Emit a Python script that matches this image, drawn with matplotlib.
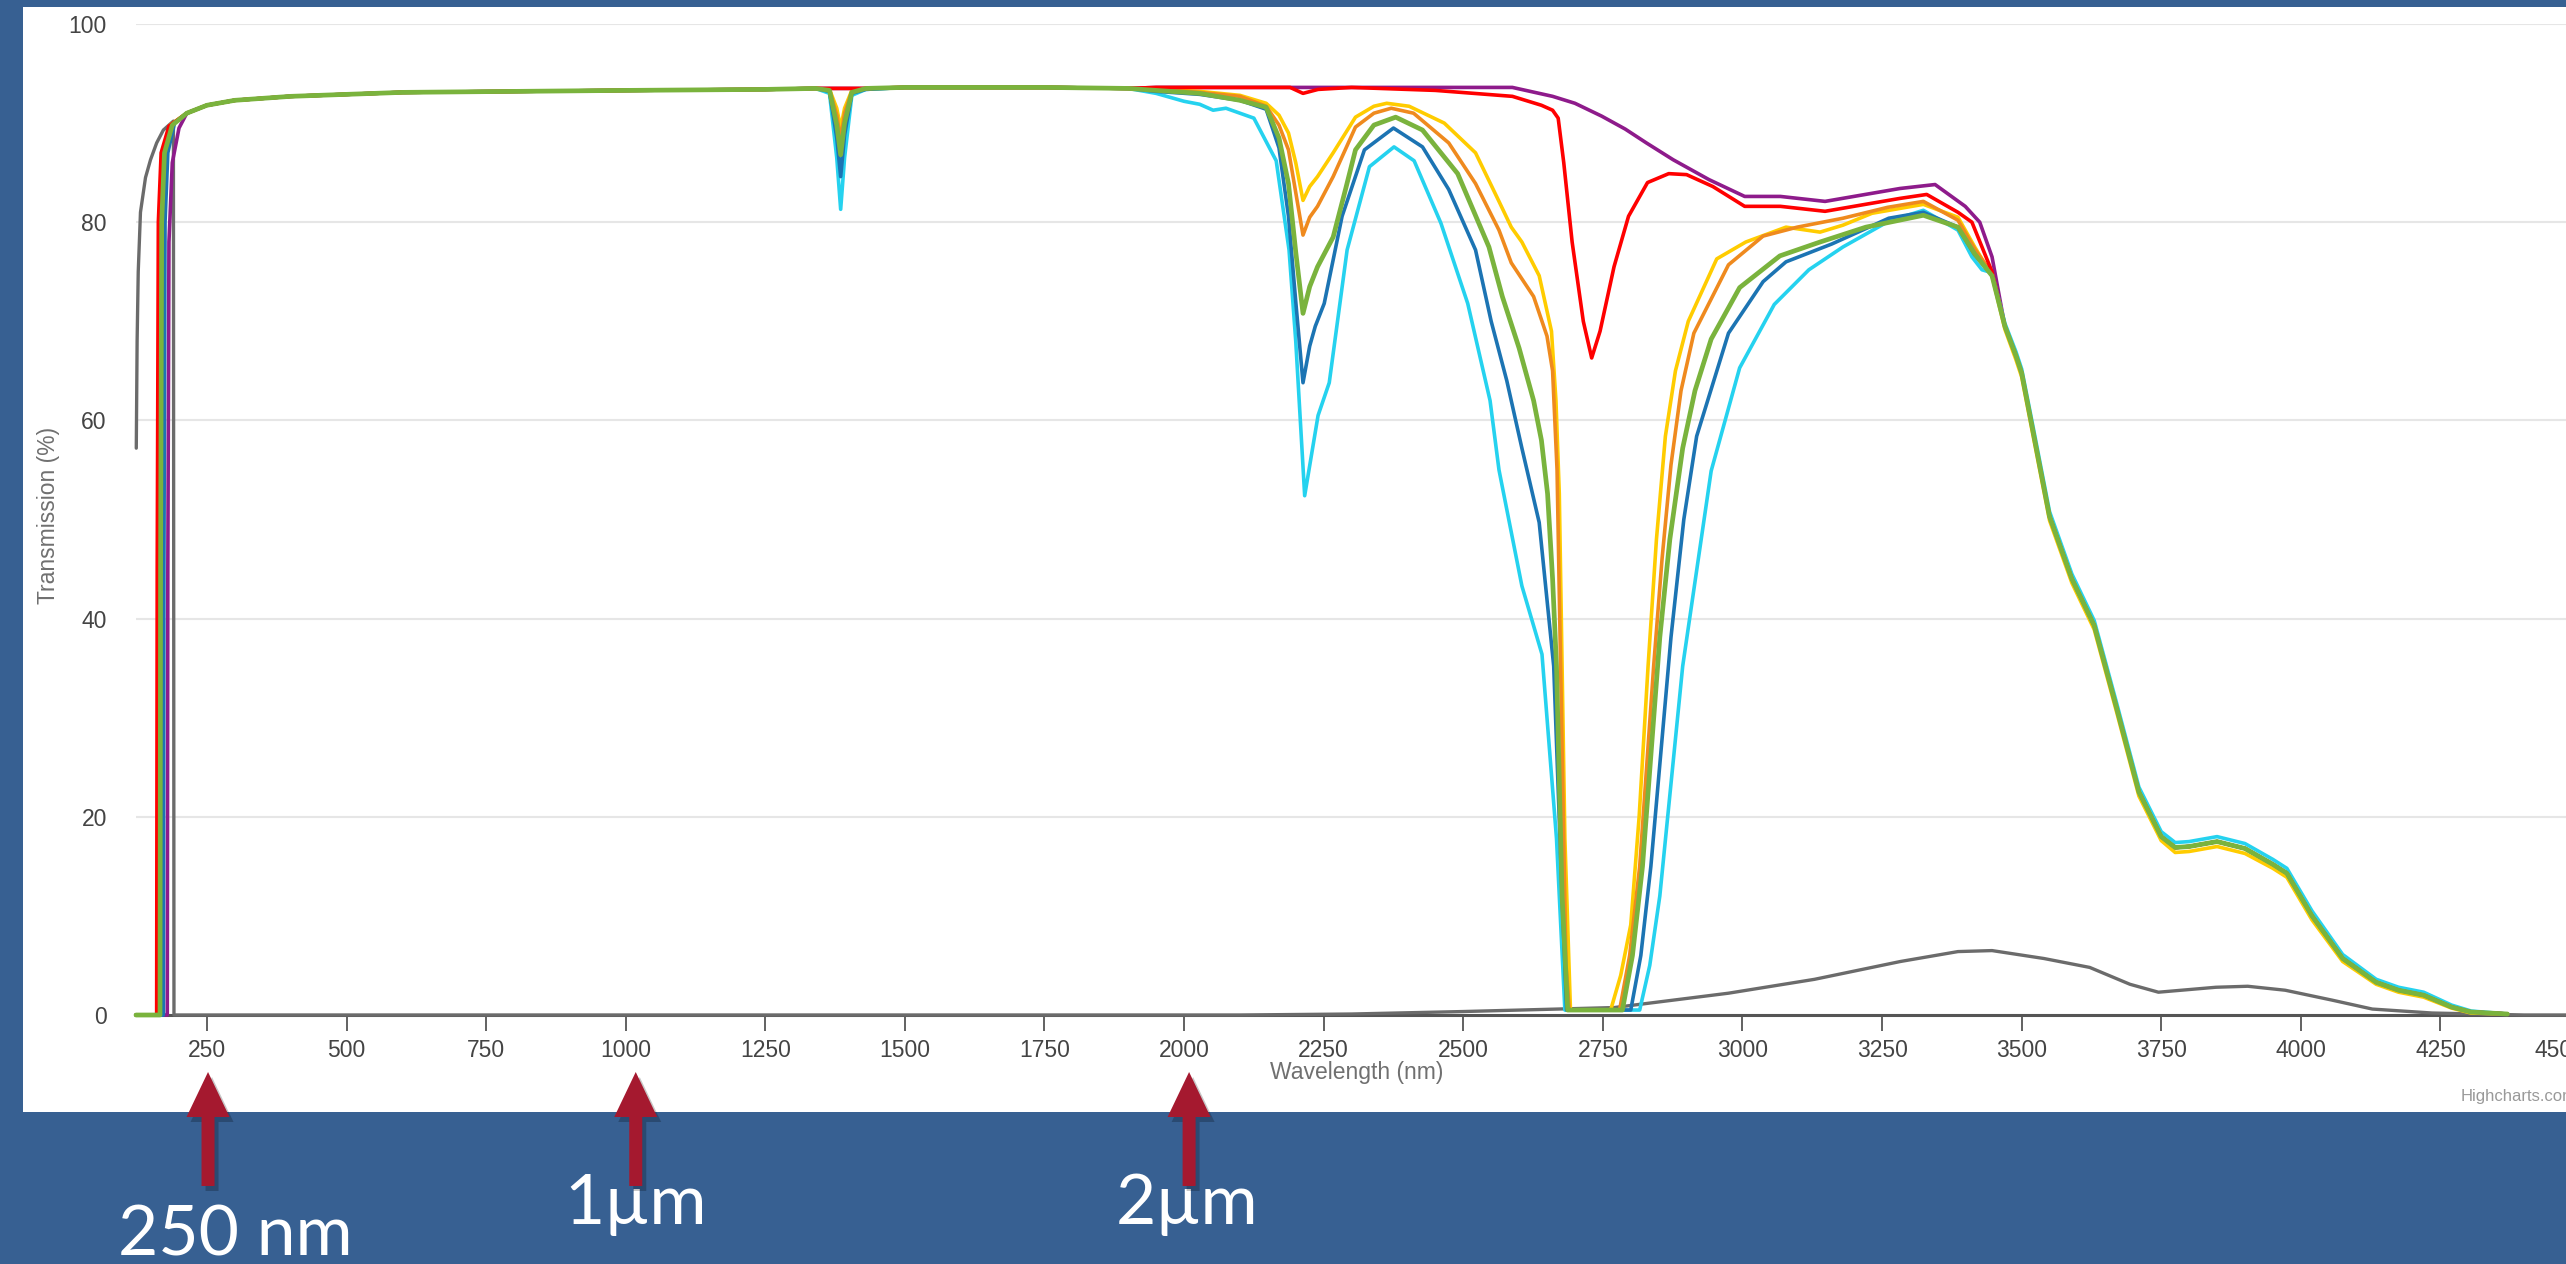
#%%
# Transmission curves of several glass grades, redrawn from a Highcharts screenshot
import numpy as np
import matplotlib.pyplot as plt
from matplotlib.patches import Polygon, Rectangle
from matplotlib.transforms import ScaledTranslation

plt.rcParams['font.family'] = ['Liberation Sans', 'DejaVu Sans']

# %%
# values (wavelength in nm, transmission in %)

# shared pieces: UV/visible plateau, the mid plateau and the IR tail
plateau_x = [214, 250, 300, 400, 600, 800, 1000, 1250, 1340]
plateau_y = [91.0, 91.8, 92.3, 92.7, 93.1, 93.2, 93.3, 93.4, 93.5]
dip_x = [1365, 1378, 1385, 1392, 1405, 1430]
mid_x = [1500, 1750, 1900]
mid_y = [93.6, 93.6, 93.5]
tail_x = [3470, 3490, 3500, 3520, 3550, 3590, 3630, 3670, 3710, 3750, 3775,
          3800, 3850, 3900, 3950, 3975, 4020, 4075, 4135, 4175, 4220, 4270,
          4305, 4370]
tail_y = [69.5, 66.5, 64.8, 59.0, 50.3, 44.0, 39.3, 31.0, 22.5, 18.0, 16.9,
          17.0, 17.5, 16.8, 15.2, 14.3, 10.0, 5.7, 3.3, 2.5, 2.0, 0.8,
          0.3, 0.1]
# cyan runs a touch above the bundle in the tail, yellow a touch below
cyan_tail_y = [69.8, 66.9, 65.2, 59.5, 50.8, 44.5, 39.8, 31.5, 23.0, 18.5, 17.4,
               17.5, 18.0, 17.3, 15.7, 14.8, 10.5, 6.1, 3.6, 2.8, 2.3, 1.0,
               0.4, 0.1]
yellow_tail_y = [69.2, 66.1, 64.4, 58.6, 49.9, 43.6, 38.9, 30.6, 22.1, 17.6, 16.4,
                 16.5, 17.0, 16.3, 14.8, 13.9, 9.6, 5.4, 3.1, 2.3, 1.8, 0.7,
                 0.2, 0.1]

# yellow
yellow_edge_x = [123, 162, 163, 165, 170, 184]
yellow_edge_y = [0, 0, 45, 80, 87, 89.8]
yellow_dip_y = [93.4, 91.5, 89.5, 91.5, 93.3, 93.5]
yellow_ir_x = [1950, 2028, 2100, 2147, 2170, 2187, 2200, 2213, 2225, 2239,
               2267, 2307, 2340, 2363, 2403, 2466, 2522, 2564, 2586, 2605,
               2636, 2658, 2666, 2672, 2682, 2692, 2764, 2782, 2800, 2815,
               2831, 2846, 2862, 2880, 2903, 2954, 3006, 3078, 3139, 3180,
               3232, 3324, 3386, 3416, 3447]
yellow_ir_y = [93.4, 93.2, 92.8, 92.0, 90.8, 89.0, 86.0, 82.2, 83.6, 84.6,
               87.0, 90.6, 91.7, 92.0, 91.7, 90.0, 87.0, 82.1, 79.5, 78.0,
               74.6, 69.0, 62.0, 52.6, 17.8, 0.5, 0.5, 4.0, 9.1, 20.0,
               35.2, 48.0, 58.4, 65.0, 70.0, 76.3, 78.0, 79.5, 79.0, 79.7,
               80.9, 81.8, 80.5, 77.5, 74.6]

# orange
orange_edge_x = [123, 164, 165, 167, 172, 186]
orange_edge_y = [0, 0, 45, 80, 87, 89.8]
orange_dip_y = [93.4, 90.8, 88.3, 91.0, 93.2, 93.5]
orange_ir_x = [1950, 2028, 2100, 2147, 2170, 2187, 2200, 2213, 2225, 2239,
               2267, 2307, 2340, 2371, 2411, 2474, 2522, 2564, 2586, 2626,
               2650, 2660, 2668, 2676, 2684, 2690, 2780, 2798, 2816, 2841,
               2856, 2872, 2890, 2913, 2975, 3037, 3098, 3180, 3260, 3324,
               3386, 3416, 3447]
orange_ir_y = [93.4, 93.1, 92.7, 91.7, 89.8, 87.3, 83.0, 78.7, 80.5, 81.6,
               84.6, 89.6, 91.0, 91.5, 91.0, 88.0, 83.9, 79.2, 75.9, 72.5,
               68.5, 65.0, 55.0, 30.0, 5.0, 0.5, 0.5, 6.0, 15.0, 35.2,
               46.0, 55.5, 63.0, 68.8, 75.7, 78.6, 79.5, 80.4, 81.5, 82.1,
               80.2, 77.3, 74.8]

# green
green_edge_x = [123, 166, 167, 169, 174, 188]
green_edge_y = [0, 0, 45, 80, 87, 89.8]
green_dip_y = [93.3, 89.8, 86.8, 90.0, 93.1, 93.5]
green_ir_x = [1950, 2028, 2100, 2147, 2170, 2187, 2200, 2213, 2225, 2239,
              2267, 2290, 2307, 2340, 2379, 2427, 2490, 2546, 2570, 2600,
              2626, 2640, 2651, 2660, 2667, 2677, 2687, 2785, 2803, 2821,
              2852, 2870, 2893, 2915, 2944, 2995, 3067, 3139, 3221, 3324,
              3386, 3416, 3447]
green_ir_y = [93.3, 93.0, 92.3, 91.6, 88.5, 83.9, 77.0, 70.8, 73.5, 75.5,
              78.5, 83.5, 87.3, 89.8, 90.6, 89.3, 84.9, 77.5, 72.5, 67.3,
              62.0, 58.0, 52.6, 44.0, 35.2, 12.0, 0.5, 0.5, 6.0, 15.0,
              38.1, 48.0, 57.2, 63.0, 68.2, 73.4, 76.6, 78.0, 79.5, 80.7,
              79.5, 76.8, 74.6]

# dark blue
blue_edge_x = [123, 172, 173, 175, 180, 192]
blue_edge_y = [0, 0, 45, 80, 87, 90.0]
blue_dip_y = [93.2, 88.5, 84.6, 88.8, 93.0, 93.4]
blue_ir_x = [1950, 2028, 2100, 2147, 2170, 2187, 2200, 2213, 2225, 2235,
             2251, 2283, 2323, 2375, 2427, 2474, 2522, 2550, 2578, 2605,
             2636, 2662, 2677, 2685, 2800, 2818, 2836, 2872, 2895, 2918,
             2975, 3037, 3078, 3160, 3262, 3324, 3386, 3416, 3447]
blue_ir_y = [93.2, 92.9, 92.3, 91.4, 87.5, 80.6, 72.0, 63.8, 67.5, 69.5,
             71.8, 80.6, 87.3, 89.5, 87.6, 83.3, 77.2, 70.0, 64.0, 57.2,
             49.7, 35.2, 12.0, 0.5, 0.5, 6.0, 15.0, 38.1, 50.0, 58.4,
             68.8, 74.0, 76.0, 77.8, 80.4, 81.0, 79.5, 76.7, 74.7]

# cyan
cyan_edge_x = [123, 169, 170, 172, 177, 190]
cyan_edge_y = [0, 0, 45, 80, 87, 89.9]
cyan_dip_y = [93.0, 86.5, 81.3, 86.5, 92.8, 93.4]
cyan_ir_x = [1950, 2000, 2028, 2052, 2075, 2100, 2125, 2165, 2188, 2200,
             2216, 2240, 2260, 2292, 2332, 2376, 2412, 2460, 2508, 2548,
             2564, 2605, 2641, 2667, 2682, 2816, 2834, 2852, 2893, 2944,
             2995, 3057, 3119, 3180, 3262, 3324, 3386, 3411, 3429, 3447]
cyan_ir_y = [93.0, 92.2, 91.9, 91.3, 91.5, 91.0, 90.5, 86.2, 77.2, 68.0,
             52.4, 60.5, 63.8, 77.2, 85.6, 87.6, 86.2, 79.9, 71.8, 62.0,
             55.0, 43.3, 36.4, 17.8, 0.5, 0.5, 5.0, 12.0, 35.2, 54.9,
             65.3, 71.7, 75.2, 77.5, 80.1, 81.2, 79.2, 76.5, 75.2, 74.9]

# red (low OH, only the 2730 band)
red_edge_x = [123, 160, 161, 163, 168, 182]
red_edge_y = [0, 0, 45, 80, 87, 89.7]
flat_dip_y = [93.5, 93.5, 93.5, 93.5, 93.5, 93.5]
red_ir_x = [1950, 2190, 2213, 2240, 2300, 2450, 2588, 2640, 2660, 2670,
            2680, 2695, 2715, 2730, 2745, 2770, 2796, 2830, 2868, 2900,
            2947, 3004, 3068, 3148, 3220, 3282, 3330, 3386, 3411, 3447]
red_ir_y = [93.6, 93.6, 93.0, 93.4, 93.6, 93.3, 92.7, 91.8, 91.3, 90.5,
            86.0, 78.0, 70.0, 66.3, 69.0, 75.5, 80.6, 84.0, 84.9, 84.8,
            83.6, 81.6, 81.6, 81.1, 81.8, 82.4, 82.8, 81.0, 80.0, 75.0]

# purple (no OH bands)
purple_edge_x = [123, 179, 180, 182, 188, 200]
purple_edge_y = [0, 0, 45, 78, 86, 89.5]
purple_ir_x = [1950, 2300, 2500, 2588, 2660, 2700, 2748, 2790, 2828, 2876,
               2940, 3004, 3068, 3148, 3220, 3282, 3345, 3399, 3425, 3447]
purple_ir_y = [93.6, 93.6, 93.6, 93.6, 92.7, 92.0, 90.7, 89.4, 88.0, 86.3,
               84.3, 82.6, 82.6, 82.1, 82.8, 83.4, 83.8, 81.6, 80.0, 76.5]

# gray
gray_x = [123.5, 125, 127, 131, 140, 149, 160, 172, 190, 191, 2100, 2300,
          2500, 2770, 2975, 3129, 3283, 3386, 3447, 3540, 3622, 3694, 3745,
          3848, 3905, 3972, 4056, 4128, 4235, 4400, 4500]
gray_y = [57.2, 68.0, 75.0, 81.0, 84.5, 86.3, 88.0, 89.3, 90.2, 0, 0, 0.1,
          0.35, 0.75, 2.2, 3.6, 5.4, 6.4, 6.5, 5.7, 4.8, 3.1, 2.3,
          2.8, 2.9, 2.5, 1.5, 0.6, 0.2, 0, 0]

xticks = list(range(250, 4501, 250))
yticks = [0, 20, 40, 60, 80, 100]

arrow_x = [252, 1018, 2009]
arrow_labels = ['250 nm', '1µm', '2µm']

# %%
# page layout in pixels of the 2566 x 1264 picture
W, H = 2566, 1264
fig = plt.figure(figsize=(W / 100, H / 100), dpi=100, facecolor='#376092')

def fx(px):
    return px / W

def fy(py):
    return 1 - py / H

# white chart panel
fig.patches.append(Rectangle((fx(23), fy(1112)), 1, (1112 - 7) / H,
                             transform=fig.transFigure, facecolor='white',
                             edgecolor='none', zorder=-10))

ax = fig.add_axes([fx(136), fy(1015), (2580 - 136) / W, (1015 - 24) / H])
ax.set_facecolor('white')

# series, in drawing order
series = [
    (gray_x, gray_y, '#6b6b6b', 2.4),
    (purple_edge_x + plateau_x + dip_x + mid_x + purple_ir_x + tail_x,
     purple_edge_y + plateau_y + flat_dip_y + mid_y + purple_ir_y + tail_y,
     '#8e1b8b', 2.6),
    (cyan_edge_x + plateau_x + dip_x + mid_x + cyan_ir_x + tail_x,
     cyan_edge_y + plateau_y + cyan_dip_y + mid_y + cyan_ir_y + cyan_tail_y,
     '#25d2ef', 2.6),
    (blue_edge_x + plateau_x + dip_x + mid_x + blue_ir_x + tail_x,
     blue_edge_y + plateau_y + blue_dip_y + mid_y + blue_ir_y + tail_y,
     '#1c74b3', 2.6),
    (yellow_edge_x + plateau_x + dip_x + mid_x + yellow_ir_x + tail_x,
     yellow_edge_y + plateau_y + yellow_dip_y + mid_y + yellow_ir_y + yellow_tail_y,
     '#ffcc00', 2.6),
    (orange_edge_x + plateau_x + dip_x + mid_x + orange_ir_x + tail_x,
     orange_edge_y + plateau_y + orange_dip_y + mid_y + orange_ir_y + tail_y,
     '#ef8a1e', 2.6),
    (red_edge_x + plateau_x + dip_x + mid_x + red_ir_x + tail_x,
     red_edge_y + plateau_y + flat_dip_y + mid_y + red_ir_y + tail_y,
     '#ff0000', 2.6),
    (green_edge_x + plateau_x + dip_x + mid_x + green_ir_x + tail_x,
     green_edge_y + plateau_y + green_dip_y + mid_y + green_ir_y + tail_y,
     '#7ab33d', 3.4),
]
for sx, sy, col, lw in series:
    ax.plot(sx, sy, color=col, lw=lw, solid_joinstyle='round',
            solid_capstyle='round', clip_on=False, zorder=3)

ax.set_xlim(123, 4500)
ax.set_ylim(0, 100)
ax.set_xticks(xticks)
ax.set_yticks(yticks)
ax.grid(axis='y', color='#e6e6e6', lw=1.5)
ax.set_axisbelow(True)
for side in ['left', 'top', 'right']:
    ax.spines[side].set_visible(False)
ax.spines['bottom'].set_color('#555555')
ax.spines['bottom'].set_linewidth(2.2)
ax.tick_params(axis='x', length=11.5, width=1.3, color='#555555',
               labelsize=16.5, labelcolor='#444444', pad=6)
ax.tick_params(axis='y', length=0, labelsize=16.5, labelcolor='#444444',
               pad=21)

# Highcharts pushes the last x label inwards so it stays inside the chart
fig.canvas.draw()
last = ax.get_xticklabels()[-1]
last.set_transform(last.get_transform() +
                   ScaledTranslation(-0.2, 0, fig.dpi_scale_trans))

fig.text(fx(49), fy(515), 'Transmission (%)', rotation=90, ha='center',
         va='center', fontsize=16.5, color='#707070')
fig.text(fx(1357), fy(1072), 'Wavelength (nm)', ha='center', va='center',
         fontsize=16.5, color='#707070')
fig.text(fx(2461), fy(1097), 'Highcharts.com', ha='left', va='center',
         fontsize=12, color='#999999')

# %%
# red arrows under the axis with their labels
label_dx = [27, 0, -2]
label_base = [1255, 1224, 1224]
for xv, lab, dx, base in zip(arrow_x, arrow_labels, label_dx, label_base):
    px = ax.transData.transform((xv, 0))[0]
    pts = [(px, 1072), (px + 21.5, 1117), (px + 6.5, 1117), (px + 6.5, 1186),
           (px - 6.5, 1186), (px - 6.5, 1117), (px - 21.5, 1117)]
    shadow = [(fx(a + 4), fy(b + 5)) for a, b in pts]
    fig.patches.append(Polygon(shadow, closed=True, transform=fig.transFigure,
                               facecolor='black', alpha=0.22,
                               edgecolor='none', zorder=5))
    fig.patches.append(Polygon([(fx(a), fy(b)) for a, b in pts], closed=True,
                               transform=fig.transFigure, facecolor='#a5192f',
                               edgecolor='none', zorder=6))
    fig.text(fx(px + dx), fy(base), lab, ha='center', va='baseline',
             fontsize=50, color='white', family=['Lato', 'DejaVu Sans'])

fig.savefig('out.png', dpi=100, facecolor=fig.get_facecolor())
